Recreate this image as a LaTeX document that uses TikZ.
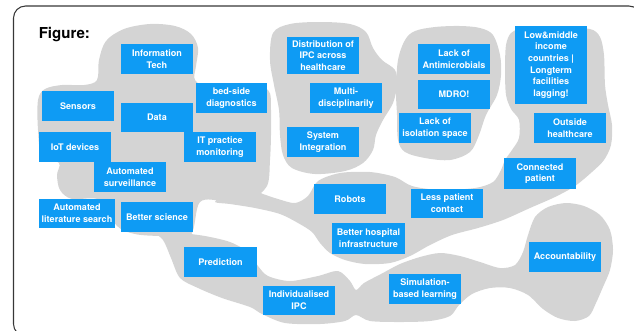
\documentclass[tikz,border=0pt]{standalone}
\usepackage{fontspec}
\setmainfont{TeX Gyre Heros}
\definecolor{tileblue}{RGB}{14,155,244}
\definecolor{blobgray}{RGB}{212,212,212}
\definecolor{framegray}{RGB}{55,55,55}
\tikzset{
  tile/.style={fill=tileblue, text=white, font=\bfseries\fontsize{6.8}{8.8}\selectfont,
    align=center, inner sep=0pt, minimum width=72*0.75pt, minimum height=30*0.75pt},
  blob/.style={fill=blobgray, draw=none},
}
\begin{document}
\begin{tikzpicture}[x=0.75pt, y=-0.75pt]
\useasboundingbox (0,0) rectangle (634,330);
\clip (0,0) rectangle (634,330);

% outer frame
\draw[framegray, line width=0.8pt, rounded corners=9pt] (13.5,6) rectangle (641,336);

% grey clusters
\fill[blob] plot[smooth cycle, tension=0.55] coordinates {
  (38,100) (45,89) (62,85) (84,85) (97,80) (99,60) (106,41) (124,29) (150,24) (175,26)
  (191,34) (198,48) (196,66) (195,80) (210,88) (245,88) (268,90) (271,110) (271,135)
  (270,160) (267,186) (250,199) (225,201) (200,202) (190,236) (160,236) (135,234)
  (117,226) (100,200) (72,199) (60,190) (57,175) (59,163) (42,156) (38,130)};
\fill[blob] plot[smooth cycle, tension=0.5] coordinates {
  (255,191) (263,194) (278,199) (295,203) (308,196) (318,181) (340,173) (370,172)
  (395,177) (412,186) (440,190) (475,188) (493,182) (501,170) (505,160) (512,150)
  (519,138) (519,120) (511,109) (506,95) (505,70) (506,45) (511,33) (522,29) (560,28)
  (590,29) (600,37) (604,55) (605,85) (608,105) (612,125) (611,145) (604,160)
  (592,172) (575,186) (555,197) (530,208) (503,220) (478,228) (452,235) (430,245)
  (410,256) (390,263) (365,264) (345,260) (330,253) (320,243) (312,232) (298,223)
  (280,214) (255,208) (230,204) (215,202) (225,195) (240,192)};
\fill[blob] plot[smooth cycle, tension=0.5] coordinates {
  (150,228) (175,232) (205,236) (230,242) (248,252) (258,266) (268,276) (290,281)
  (318,276) (338,271) (350,281) (356,290) (364,283) (381,274) (400,264) (420,257)
  (440,253) (460,256) (480,262) (500,268) (515,265) (523,252) (528,235) (535,217)
  (548,207) (566,203) (584,206) (600,215) (610,230) (613,250) (610,270) (603,287)
  (596,303) (589,316) (575,321) (558,318) (543,309) (528,295) (510,288) (490,288)
  (472,294) (459,305) (450,316) (430,321) (400,322) (370,321) (356,315) (345,321)
  (320,324) (285,323) (262,314) (250,307) (222,298) (198,288) (180,278) (171,258)
  (163,240)};
\fill[blob] plot[smooth cycle, tension=0.55] coordinates {
  (273,33) (290,24) (320,22) (350,24) (366,32) (373,48) (382,60) (395,70) (397,85)
  (393,103) (383,120) (376,135) (373,150) (363,163) (345,171) (315,174) (292,168)
  (283,155) (280,135) (279,110) (274,85) (270,60)};
\fill[blob] plot[smooth cycle, tension=0.55] coordinates {
  (405,40) (415,31) (435,27) (460,26) (480,28) (493,35) (500,55) (501,75) (497,95)
  (486,115) (479,135) (470,152) (450,160) (425,158) (405,152) (398,140) (397,115)
  (396,90) (398,60)};

% heading
\node[anchor=base west, inner sep=0pt, font=\bfseries\fontsize{11.3}{13}\selectfont] (heading) at (38.5,38) {Figure:};

% technology cluster
\node[tile] (infotech) at (157,59) {Information\\Tech};
\node[tile] (sensors) at (78,106) {Sensors};
\node[tile, minimum height=29*0.75pt] (data) at (157,117.5) {Data};
\node[tile, minimum width=71*0.75pt] (bedside) at (231.5,98) {bed-side\\diagnostics};
\node[tile] (iot) at (75,147) {IoT devices};
\node[tile] (itpractice) at (220,147) {IT practice\\monitoring};
\node[tile] (surveillance) at (130,177) {Automated\\surveillance};
\node[tile, minimum width=76*0.75pt, minimum height=29*0.75pt] (litsearch) at (77,213.5) {Automated\\literature search};
\node[tile] (science) at (157,217) {Better science};
\node[tile, minimum width=73*0.75pt] (prediction) at (220.5,262) {Prediction};
\node[tile, minimum height=29*0.75pt] (individual) at (299,300.5) {Individualised\\IPC};

% organisation cluster
\node[tile, minimum height=37*0.75pt] (distribution) at (323,55.5) {Distribution of\\IPC across\\healthcare};
\node[tile] (multi) at (346,98) {Multi-\\disciplinarily};
\node[tile] (sysint) at (323,142) {System\\Integration};

% resistance cluster
\node[tile] (antimicro) at (454,59) {Lack of\\Antimicrobials};
\node[tile, minimum height=29*0.75pt] (mdro) at (454,94.5) {MDRO!};
\node[tile] (isolation) at (435,128) {Lack of\\isolation space};

% care setting cluster
\node[tile, minimum height=78*0.75pt] (lowmiddle) at (551,65) {Low\&middle\\income\\countries |\\Longterm\\facilities\\lagging!};
\node[tile] (outside) at (570,128) {Outside\\healthcare};
\node[tile, minimum height=31*0.75pt] (connected) at (540,173.5) {Connected\\patient};
\node[tile] (robots) at (350,199) {Robots};
\node[tile, minimum height=29*0.75pt] (lesscontact) at (447,203.5) {Less patient\\contact};
\node[tile, minimum width=73*0.75pt, minimum height=31*0.75pt] (hospital) at (368.5,238.5) {Better hospital\\infrastructure};
\node[tile] (account) at (565,257) {Accountability};
\node[tile] (simulation) at (425,289) {Simulation-\\based learning};
\end{tikzpicture}
\end{document}
